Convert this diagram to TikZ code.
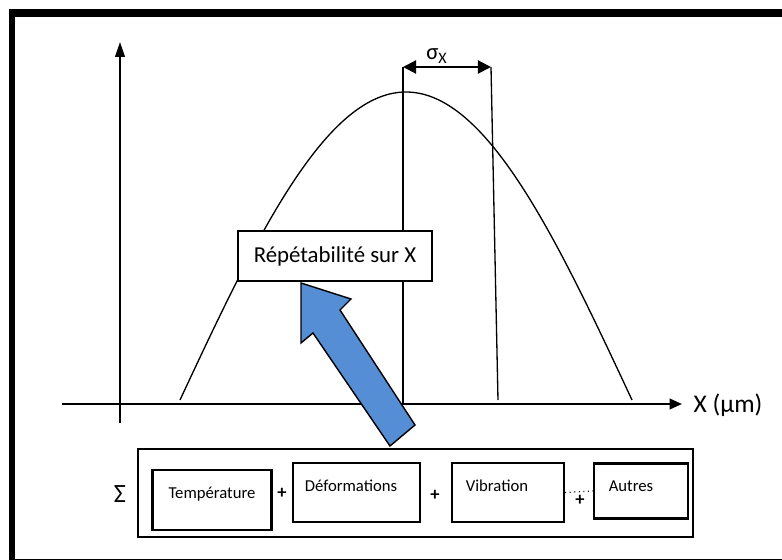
\documentclass[tikz,border=0pt]{standalone}
\usepackage{fontspec}
\setmainfont{Carlito}
\usepackage{xcolor}
\usetikzlibrary{arrows.meta}

\definecolor{arrowblue}{RGB}{85,142,213}

\begin{document}
\begin{tikzpicture}[x=0.02cm, y=-0.02cm,
  factor/.style={draw, line width=1.3pt, inner sep=0pt},
  factortext/.style={font=\fontsize{9.5}{10}\selectfont, inner sep=0pt},
  plus/.style={font=\fontsize{10.5}{10}\selectfont\bfseries, inner sep=0pt},
  thinline/.style={line width=0.75pt}]

\useasboundingbox (0,0) rectangle (782,560);

% frame
\draw[line width=4pt] (9,13) -- (782,13);
\draw[line width=3.6pt] (12,11) -- (12,560);
\draw[line width=0.8pt] (12,559.3) -- (782,559.3);

% axes
\coordinate (yfoot) at (120,423);
\coordinate (ytip) at (120,42);
\coordinate (xfoot) at (62,404);
\coordinate (xtip) at (682,404);
\draw[line width=1.1pt, -{Triangle[length=8.5pt, width=5.5pt]}] (yfoot) -- (ytip);
\draw[line width=1.1pt, -{Triangle[length=7pt, width=6pt]}] (xfoot) -- (xtip);
\node (xlabel) at (728,405) {\fontsize{14.5}{16}\selectfont X (µm)};

% curve
\draw[thinline] plot[domain=180:632, samples=90, smooth]
  (\x, {400 - 308*sin(0.39823*(\x-180))});

% sigma
\coordinate (mtop) at (403,67);
\coordinate (mbot) at (403,404);
\coordinate (stop) at (491,67);
\coordinate (sbot) at (498,400);
\draw[thinline] (mtop) -- (mbot);
\draw[thinline] (stop) -- (sbot);
\draw[line width=1.2pt, {Triangle[length=7.5pt, width=7.5pt]}-{Triangle[length=7.5pt, width=7.5pt]}] (mtop) -- (stop);
\node (sigma) at (437,56) {\fontsize{13}{14}\selectfont σ\textsubscript{X}};

% label box
\node (repet) at (335,256) [draw, fill=white, line width=1.2pt,
  minimum width=3.88cm, minimum height=1cm]
  {\fontsize{13}{15}\selectfont Répétabilité sur X};

% big arrow
\filldraw[fill=arrowblue, draw=black, line width=0.8pt]
  (301,283) -- (351,299) -- (340,310) -- (415,425) -- (390,446)
  -- (313,333) -- (301,343) -- cycle;

% factors
\node (sum) at (415.5,493) [draw, line width=1.1pt,
  minimum width=11.1cm, minimum height=1.76cm] {};
\node (sigmaSum) at (120,494) {\fontsize{15}{16}\selectfont Σ};

\node (temp) at (212,500) [factor, minimum width=2.38cm, minimum height=1.2cm] {};
\node (tempTxt) at (212,494) [factortext] {Température};

\node (defo) at (356.5,492.5) [factor, minimum width=2.54cm, minimum height=1.18cm] {};
\node (defoTxt) at (351,486) [factortext] {Déformations};

\node (vib) at (508,492.5) [factor, minimum width=2.24cm, minimum height=1.18cm] {};
\node (vibTxt) at (497,486) [factortext] {Vibration};

\node (autres) at (641,491) [factor, minimum width=1.88cm, minimum height=1.1cm] {};
\node (autresTxt) at (631,486) [factortext] {Autres};

\node (plusA) at (282,493) [plus] {+};
\node (plusB) at (435,495) [plus] {+};
\node (plusC) at (580,500) [plus] {+};
\draw[dotted, line width=0.6pt] (vib.east) -- (autres.west);

\end{tikzpicture}
\end{document}
